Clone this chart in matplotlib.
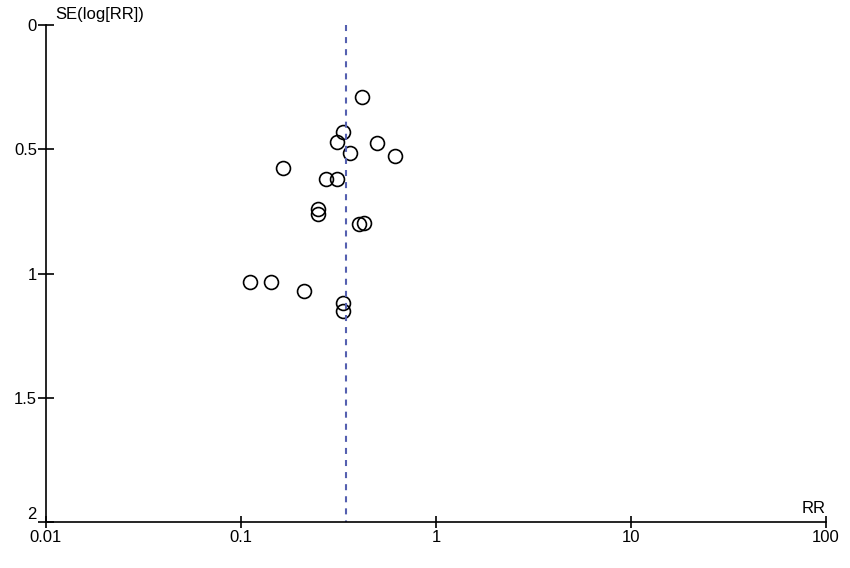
import matplotlib.pyplot as plt
import matplotlib.transforms as mtransforms

plt.rcParams['font.family'] = ['Liberation Sans', 'DejaVu Sans']

# funnel plot data: risk ratio and standard error of log(RR)
rr = [0.419, 0.335, 0.310, 0.497, 0.362, 0.617, 0.165, 0.272, 0.312,
      0.249, 0.249, 0.405, 0.428, 0.111, 0.142, 0.211, 0.335, 0.335]
se = [0.291, 0.432, 0.472, 0.476, 0.516, 0.528, 0.574, 0.620, 0.620,
      0.742, 0.761, 0.801, 0.796, 1.036, 1.036, 1.070, 1.118, 1.150]
pooled_rr = 0.345

x_ticks = [0.01, 0.1, 1, 10, 100]
x_labels = ['0.01', '0.1', '1', '10', '100']
y_ticks = [0, 0.5, 1, 1.5, 2]
y_labels = ['0', '0.5', '1', '1.5', '2']

fig = plt.figure(figsize=(8.5, 5.68), dpi=100)
ax = fig.add_axes([46 / 850, 46 / 568, 780 / 850, 497 / 568])

ax.plot(rr, se, 'o', markersize=10, markerfacecolor='none',
        markeredgecolor='black', markeredgewidth=1.2, clip_on=False)
ax.plot([pooled_rr, pooled_rr], [0, 2], color='#5560b0', lw=1.5,
        linestyle=(0, (2.9, 2.9)))

ax.set_xscale('log')
ax.set_xlim(0.01, 100)
ax.set_ylim(2, 0)
ax.set_xticks(x_ticks)
ax.set_xticklabels(x_labels)
ax.xaxis.set_minor_locator(plt.NullLocator())
ax.set_yticks(y_ticks)
ax.set_yticklabels(y_labels)

for s in ['top', 'right']:
    ax.spines[s].set_visible(False)
for s in ['left', 'bottom']:
    ax.spines[s].set_linewidth(1.2)

ax.tick_params(axis='both', direction='inout', width=1.2, labelsize=12)
ax.tick_params(axis='x', length=9, pad=1.5)
ax.tick_params(axis='y', length=11, pad=1)
# nudge the bottom y label up a little so it clears "0.01"
ylab = ax.get_yticklabels()
ylab[-1].set_va('bottom')

off = mtransforms.offset_copy(ax.transAxes, fig=fig, x=9, y=3, units='dots')
ax.text(0, 1, 'SE(log[RR])', fontsize=12, ha='left', va='bottom',
        transform=off)
ax.text(1, 0.0, 'RR', fontsize=12, ha='right', va='bottom',
        transform=mtransforms.offset_copy(ax.transAxes, fig=fig, x=0, y=6, units='dots'))

fig.savefig('out.png', dpi=100)
